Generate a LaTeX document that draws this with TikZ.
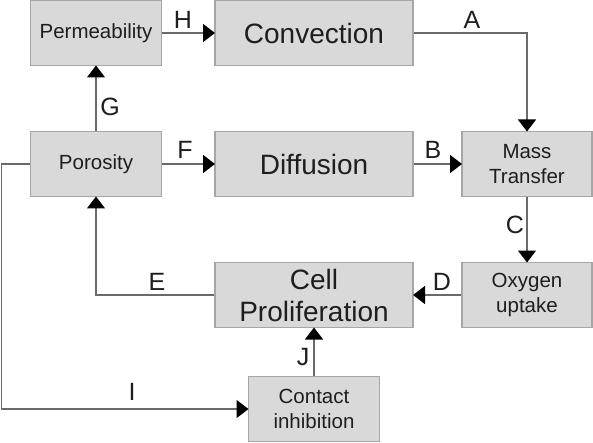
\documentclass[tikz,border=0pt]{standalone}
\usepackage{fontspec}
\setmainfont{Liberation Sans}
\usetikzlibrary{arrows.meta}
\definecolor{boxfill}{HTML}{D9D9D9}
\definecolor{boxline}{HTML}{A6A6A6}
\definecolor{conline}{HTML}{6A6A6A}
\definecolor{txt}{HTML}{1E1E1E}
\tikzset{
  blk/.style={draw=boxline, fill=boxfill, line width=1.5pt, inner sep=0pt, align=center, text=txt},
  bigbox/.style={blk, minimum width=198pt, minimum height=65pt, font=\fontsize{28}{32}\selectfont},
  smallbox/.style={blk, minimum width=131pt, minimum height=65pt, font=\fontsize{20.5}{25}\selectfont},
  con/.style={draw=conline, line width=1.5pt},
  arr/.style={con, -{Triangle[length=12pt,width=18pt,color=black]}, shorten >=-0.75pt},
  lbl/.style={font=\fontsize{25}{25}\selectfont, text=txt, inner sep=0pt},
}
\begin{document}
\begin{tikzpicture}[x=1pt,y=-1pt]
\useasboundingbox (0,0) rectangle (593,443);
\node[smallbox] (perm) at (96,33) {Permeability};
\node[bigbox] (conv) at (314,33) {Convection};
\node[smallbox] (poro) at (96,164) {Porosity};
\node[bigbox] (diff) at (314,164) {Diffusion};
\node[smallbox, minimum width=130pt] (mass) at (527,164) {Mass\\Transfer};
\node[bigbox, minimum width=198pt] (cell) at (314,295) {Cell\\Proliferation};
\node[smallbox, minimum width=130pt] (oxy) at (527,295) {Oxygen\\uptake};
\node[smallbox] (cont) at (314,409) {Contact\\inhibition};
\coordinate (ca) at (527,33);
\coordinate (ce) at (96,295);
\coordinate (ci1) at (1.5,164);
\coordinate (ci2) at (1.5,409);
\draw[arr] (perm) -- (conv);
\draw[arr] (conv.east) -- (ca) -- (mass.north);
\draw[arr] (poro) -- (perm);
\draw[arr] (poro) -- (diff);
\draw[arr] (diff) -- (mass);
\draw[arr] (mass) -- (oxy);
\draw[arr] (oxy) -- (cell);
\draw[arr] (cell.west) -- (ce) -- (poro.south);
\draw[arr] (cont) -- (cell);
\draw[arr] (poro.west) -- (ci1) -- (ci2) -- (cont.west);
\node[lbl] (lH) at (183,20) {H};
\node[lbl] (lA) at (472,20) {A};
\node[lbl] (lG) at (110,107) {G};
\node[lbl] (lF) at (185,150) {F};
\node[lbl] (lB) at (433,150) {B};
\node[lbl] (lC) at (515,225) {C};
\node[lbl] (lE) at (157,282) {E};
\node[lbl] (lD) at (442,282) {D};
\node[lbl] (lJ) at (303,357) {J};
\node[lbl] (lI) at (132,392) {I};
\end{tikzpicture}
\end{document}
